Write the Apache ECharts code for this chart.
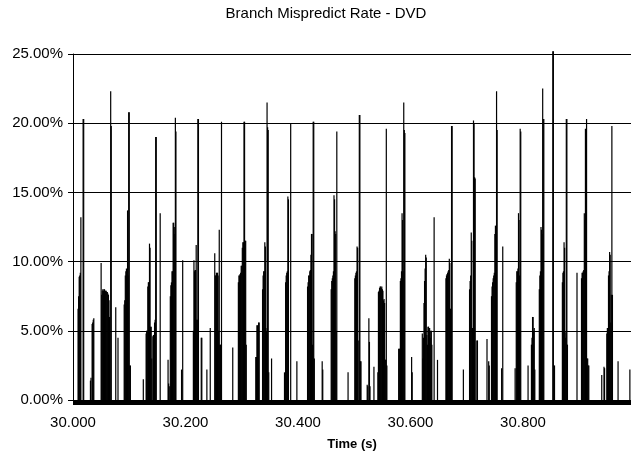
<!DOCTYPE html>
<html>
<head>
<meta charset="utf-8">
<title>Branch Mispredict Rate - DVD</title>
<script src="https://cdn.jsdelivr.net/npm/echarts@6/dist/echarts.min.js"></script>
<style>
  html, body { margin: 0; padding: 0; background: #fff; }
  #chart { width: 631px; height: 456px; }
</style>
</head>
<body>
<div id="chart"></div>
<script>
// Sampling: one reading per millisecond starting at 30.000 s.
const startTime = 30.000;
const sampleCount = 993;

// Y axis tick values (percent).
const rateTicks = [0, 5, 10, 15, 20, 25];

// Non-zero samples: offset in ms from 30.000 s and mispredict rate in %.
// Every other sample reads 0.00%.
const spikeMs = [
  9, 10, 11, 12, 13, 14, 18, 19,
  31, 32, 34, 35, 36, 37,
  50, 51, 52, 53, 54, 55, 56, 57, 58, 59, 60, 61, 62, 63, 64, 65, 67, 68,
  76, 80,
  91, 92, 93, 94, 95, 96, 97, 98, 99, 100, 101, 102,
  125,
  130, 131, 132, 133, 134, 135, 136, 137, 138, 139, 140, 142, 143, 144, 145, 146, 147, 148, 155,
  169, 170, 172, 173, 174, 175, 176, 177, 178, 179, 180, 181, 182, 183,
  193, 195,
  214, 215, 216, 217, 218, 219, 220, 221, 222, 223, 228, 229,
  238, 244,
  252, 253, 254, 255, 256, 257, 258, 259, 260, 261, 262, 263, 264,
  284,
  294, 295, 296, 297, 298, 299, 300, 301, 302, 303, 304, 305, 306, 307, 308,
  325, 326, 327, 328, 329, 330, 331,
  337, 338, 339, 340, 341, 342, 343, 344, 345, 346, 347, 348, 353,
  376, 378, 379, 380, 381, 382, 383, 387, 398,
  417, 418, 419, 420, 421, 422, 423, 424, 425, 426, 427, 428, 429,
  443, 444,
  459, 460, 461, 462, 463, 464, 465, 466, 467, 468, 469, 489,
  501, 502, 503, 504, 505, 506, 507, 509, 510, 511, 512,
  523, 524, 526, 527, 528, 535,
  542, 543, 544, 545, 546, 547, 548, 549, 550, 551, 552, 553, 554, 555, 556, 557, 558,
  579, 580, 581, 582, 583, 584, 585, 586, 587, 588, 589, 590,
  602, 603,
  621, 622, 623, 624, 625, 626, 627, 628, 629, 630, 631, 632, 633, 634, 635, 636, 637, 638, 642, 648,
  663, 664, 665, 666, 667, 668, 669, 670, 671, 673, 674,
  694,
  705, 706, 707, 708, 709, 710, 711, 712, 713, 714, 715, 718, 719,
  736, 739, 740,
  744, 745, 746, 747, 748, 749, 750, 751, 752, 753, 754, 762, 764,
  786, 788, 789, 790, 791, 792, 793, 794, 795, 796,
  809, 815, 816, 817, 818, 819, 820, 821,
  829, 830, 831, 832, 833, 834, 835, 836, 837,
  853, 854, 856,
  870, 871, 872, 873, 874, 875, 876, 877, 878, 879,
  896,
  904, 905, 906, 907, 908, 909, 910, 911, 912, 913, 914, 915, 916, 917,
  940, 944, 945,
  949, 950, 951, 952, 953, 954, 955, 956, 957, 958, 959,
  969, 990
];
const spikeRate = [
  6.6, 7.5, 8.9, 9.0, 9.2, 13.2, 20.3, 20.3,
  1.4, 1.6, 5.5, 5.6, 5.8, 5.9,
  9.9, 7.6, 7.9, 8.0, 7.9, 8.0, 8.0, 7.9, 7.9, 7.9, 7.8, 7.8, 7.7, 7.6, 7.2, 6.0, 22.3, 19.8,
  6.7, 4.5,
  6.9, 7.2, 9.0, 9.3, 9.5, 9.4, 13.7, 9.0, 20.8, 20.8, 2.5, 2.5,
  1.5,
  4.8, 5.0, 5.0, 8.2, 8.5, 8.5, 11.3, 11.0, 5.3, 5.3, 3.0, 4.6, 4.7, 4.7, 5.6, 5.8, 19.0, 19.0, 13.5,
  2.9, 1.2, 1.0, 7.5, 8.3, 8.5, 9.3, 9.3, 12.8, 12.8, 12.5, 12.0, 20.4, 19.4,
  2.2, 10.1,
  5.0, 10.1, 9.3, 9.4, 9.4, 11.2, 5.8, 5.8, 20.3, 20.3, 4.5, 4.5,
  2.2, 5.2,
  10.6, 9.0, 9.0, 9.2, 9.1, 9.2, 9.0, 5.0, 12.3, 4.0, 4.0, 4.0, 20.1,
  3.8,
  8.5, 9.0, 9.0, 9.1, 9.2, 9.7, 9.7, 11.0, 11.4, 11.4, 20.1, 20.1, 11.5, 11.5, 4.0,
  3.1, 3.1, 5.4, 5.4, 2.0, 5.6, 5.6,
  8.0, 9.0, 9.3, 9.3, 11.4, 11.1, 5.2, 5.0, 21.5, 19.7, 19.5, 2.0, 3.0,
  2.0, 8.5, 9.0, 9.2, 9.3, 14.7, 14.5, 20.0, 2.8,
  8.2, 8.5, 9.0, 9.0, 9.3, 9.4, 10.5, 12.0, 12.0, 4.0, 20.1, 20.1, 3.0,
  2.8, 2.2,
  8.0, 8.6, 8.8, 9.0, 9.3, 14.8, 14.5, 12.2, 12.0, 5.0, 19.4, 2.0,
  8.8, 9.0, 9.2, 9.3, 11.1, 11.0, 4.3, 20.6, 20.6, 2.8, 2.8,
  1.1, 1.0, 5.9, 4.2, 1.0, 2.4,
  2.0, 7.8, 7.9, 8.1, 8.2, 8.2, 8.1, 8.2, 8.0, 7.9, 7.2, 7.3, 7.0, 2.9, 2.9, 19.6, 2.5,
  3.7, 3.7, 3.7, 8.6, 8.8, 9.3, 13.5, 13.0, 9.3, 21.5, 19.5, 19.3,
  3.1, 2.0,
  4.8, 3.0, 4.5, 7.0, 8.6, 9.5, 10.5, 10.3, 4.7, 4.0, 5.3, 5.3, 5.0, 5.2, 4.5, 5.0, 5.0, 4.0, 13.2, 2.9,
  8.8, 9.0, 9.1, 9.2, 9.3, 9.4, 10.2, 9.9, 6.6, 19.8, 19.8,
  2.2,
  8.0, 8.6, 9.0, 12.1, 11.5, 5.2, 5.2, 20.2, 20.0, 16.1, 16.0, 4.3, 4.3,
  4.4, 2.8, 2.5,
  7.5, 8.2, 8.5, 8.8, 9.0, 9.2, 12.0, 12.6, 12.0, 22.3, 19.5, 2.3, 11.1,
  2.3, 8.5, 9.3, 9.3, 9.5, 13.5, 13.0, 9.0, 19.6, 19.4,
  2.5, 4.0, 4.5, 6.0, 6.0, 5.0, 5.2, 2.2,
  8.0, 9.0, 9.3, 12.5, 12.3, 12.0, 22.5, 20.3, 20.3,
  25.2, 25.2, 2.5,
  8.5, 9.2, 9.3, 11.4, 11.0, 4.9, 4.5, 20.3, 20.3, 4.0,
  9.2,
  8.8, 9.2, 9.2, 9.3, 9.4, 13.5, 13.0, 19.6, 19.4, 20.3, 3.0, 3.0, 2.5, 2.5,
  1.8, 2.4, 2.3,
  4.8, 5.2, 5.2, 9.0, 9.3, 10.7, 10.5, 5.6, 7.6, 19.8, 7.6,
  2.8, 2.2
];

// Build the full per-millisecond table for the category axis.
const timeLabels = [];
const rateSeries = [];
for (let i = 0; i < sampleCount; i++) {
  timeLabels.push((startTime + i / 1000).toFixed(3));
  rateSeries.push(0);
}
spikeMs.forEach((ms, k) => { rateSeries[ms] = spikeRate[k]; });

const FONT = '"Liberation Sans", Arial, sans-serif';
const chart = echarts.init(document.getElementById('chart'), null, { renderer: 'canvas' });

chart.setOption({
  animation: false,
  backgroundColor: '#ffffff',
  title: {
    text: 'Branch Mispredict Rate - DVD',
    left: 321,
    textAlign: 'center',
    top: 1,
    textStyle: { fontFamily: FONT, fontSize: 15, fontWeight: 'normal', color: '#000' }
  },
  grid: { left: 73, right: 0, top: 54, bottom: 56, containLabel: false, outerBoundsMode: 'none' },
  xAxis: {
    type: 'category',
    data: timeLabels,
    boundaryGap: false,
    name: 'Time (s)',
    nameLocation: 'middle',
    nameGap: 38,
    nameTextStyle: { fontFamily: FONT, fontSize: 13, fontWeight: 'bold', color: '#000' },
    axisLine: { show: true, lineStyle: { color: '#000', width: 1 } },
    axisTick: { show: true, interval: 0, length: 5, lineStyle: { color: '#000', width: 1 } },
    axisLabel: { interval: 199, margin: 15, fontFamily: FONT, fontSize: 15, color: '#000' },
    splitLine: { show: false }
  },
  yAxis: {
    type: 'value',
    min: rateTicks[0],
    max: rateTicks[rateTicks.length - 1],
    interval: rateTicks[1] - rateTicks[0],
    axisLine: { show: true, lineStyle: { color: '#000', width: 1 } },
    axisTick: { show: true, length: 5, lineStyle: { color: '#000' } },
    axisLabel: {
      margin: 10, fontFamily: FONT, fontSize: 15, color: '#000',
      formatter: v => v.toFixed(2) + '%'
    },
    splitLine: { show: true, lineStyle: { color: '#000', width: 1 } }
  },
  series: [{
    type: 'bar',
    data: rateSeries,
    barWidth: 1.2,
    barGap: '-100%',
    barCategoryGap: 0,
    clip: false,
    itemStyle: { color: '#000' },
    emphasis: { disabled: true }
  }]
});
</script>
</body>
</html>
